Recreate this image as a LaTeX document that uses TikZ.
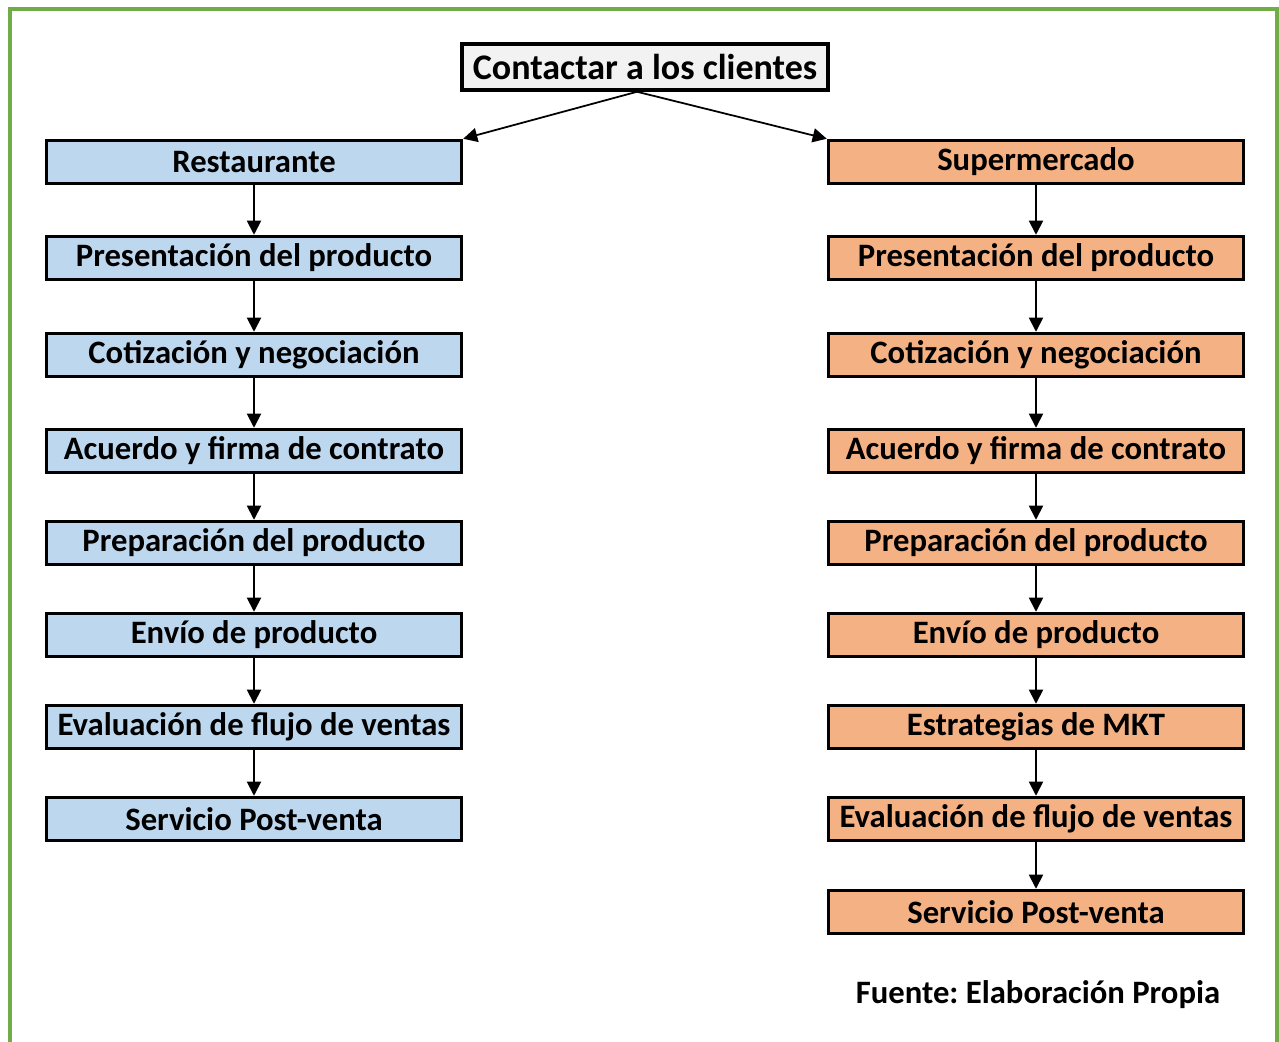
\documentclass[tikz,border=0pt]{standalone}
\usepackage{fontspec}
\setmainfont{Carlito}
\usetikzlibrary{arrows.meta}
\frenchspacing

\definecolor{azulcaja}{HTML}{BDD7EE}
\definecolor{naranjacaja}{HTML}{F4B183}
\definecolor{griscaja}{HTML}{F2F2F2}
\definecolor{verdemarco}{HTML}{70AD47}

\tikzset{
    paso/.style={draw=black, line width=2pt, minimum width=8.3cm, minimum height=0.86cm, inner sep=0pt, font=\fontsize{18.6}{22}\selectfont\bfseries},
    resto/.style={paso, fill=azulcaja},
    super/.style={paso, fill=naranjacaja},
    flecha/.style={-{Triangle[length=8pt,width=8pt]}, line width=1pt}
}

\begin{document}
\begin{tikzpicture}[x=0.02cm, y=-0.02cm]
    \useasboundingbox (0,0) rectangle (1279,1042);
    \draw[verdemarco, line width=2pt] (10,1060) -- (10,9) -- (1277,9) -- (1277,1060);

    \node[paso, fill=griscaja, minimum width=7.32cm, minimum height=0.92cm, font=\fontsize{20.5}{24}\selectfont\bfseries] (inicio) at (645,67) {Contactar a los clientes};

    \node[resto] (r1) at (254,162) {Restaurante};
    \node[resto] (r2) at (254,258) {Presentación del producto};
    \node[resto] (r3) at (254,355) {Cotización y negociación};
    \node[resto] (r4) at (254,451) {Acuerdo y firma de contrato};
    \node[resto] (r5) at (254,543) {Preparación del producto};
    \node[resto] (r6) at (254,635) {Envío de producto};
    \node[resto] (r7) at (254,727) {Evaluación de flujo de ventas};
    \node[resto] (r8) at (254,819) {Servicio Post-venta};

    \node[super] (s1) at (1036,162) {Supermercado};
    \node[super] (s2) at (1036,258) {Presentación del producto};
    \node[super] (s3) at (1036,355) {Cotización y negociación};
    \node[super] (s4) at (1036,451) {Acuerdo y firma de contrato};
    \node[super] (s5) at (1036,543) {Preparación del producto};
    \node[super] (s6) at (1036,635) {Envío de producto};
    \node[super] (s7) at (1036,727) {Estrategias de MKT};
    \node[super] (s8) at (1036,819) {Evaluación de flujo de ventas};
    \node[super] (s9) at (1036,912) {Servicio Post-venta};

    \node[font=\fontsize{18.6}{22}\selectfont\bfseries] (fuente) at (1038,995) {Fuente: Elaboración Propia};

    \draw[flecha] ([xshift=-0.16cm]inicio.south) -- (r1.north east);
    \draw[flecha] ([xshift=-0.16cm]inicio.south) -- (s1.north west);

    \draw[flecha] (r1) -- (r2);
    \draw[flecha] (r2) -- (r3);
    \draw[flecha] (r3) -- (r4);
    \draw[flecha] (r4) -- (r5);
    \draw[flecha] (r5) -- (r6);
    \draw[flecha] (r6) -- (r7);
    \draw[flecha] (r7) -- (r8);

    \draw[flecha] (s1) -- (s2);
    \draw[flecha] (s2) -- (s3);
    \draw[flecha] (s3) -- (s4);
    \draw[flecha] (s4) -- (s5);
    \draw[flecha] (s5) -- (s6);
    \draw[flecha] (s6) -- (s7);
    \draw[flecha] (s7) -- (s8);
    \draw[flecha] (s8) -- (s9);
\end{tikzpicture}
\end{document}
